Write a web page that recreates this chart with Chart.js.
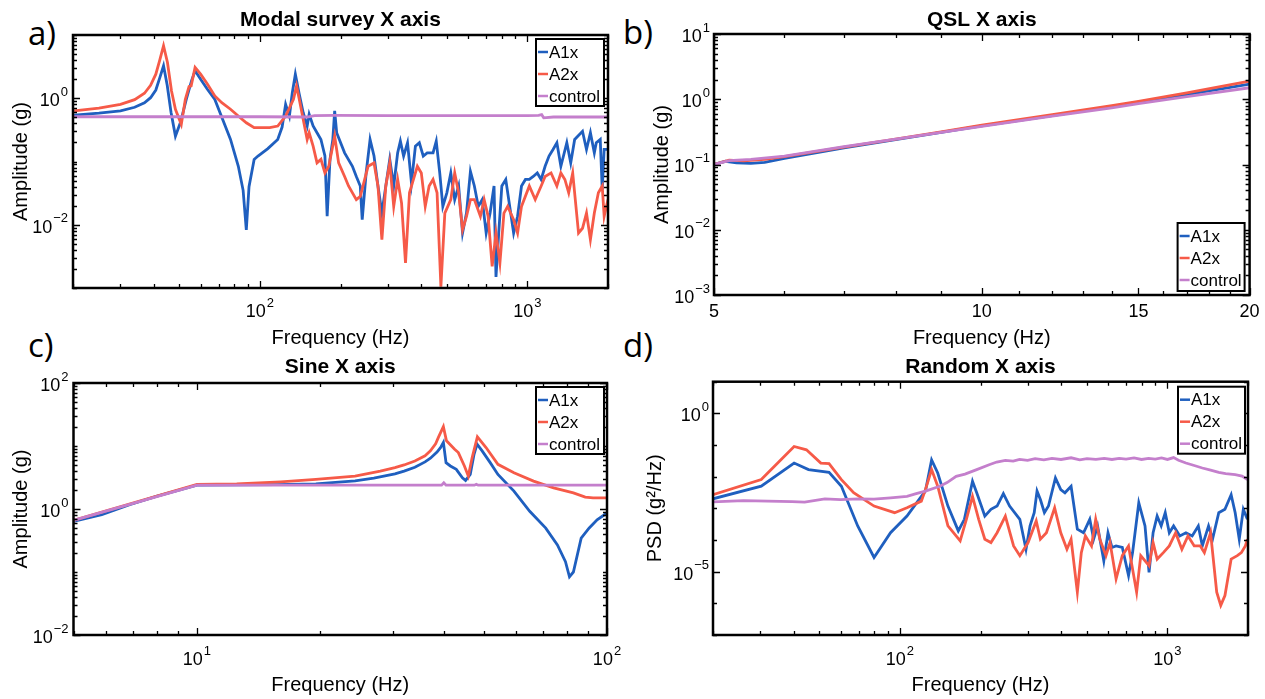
<!DOCTYPE html>
<html><head><meta charset="utf-8">
<script src="https://cdn.jsdelivr.net/npm/chart.js@4/dist/chart.umd.min.js"></script>
<style>
html,body{margin:0;padding:0;background:#fff;}
body{width:1265px;height:699px;position:relative;overflow:hidden;}
canvas{position:absolute;}
.lbl{position:absolute;font-family:"Open Sans",sans-serif;font-size:33px;line-height:33px;color:#000;}
</style></head><body>
<div class="lbl" style="left:28px;top:16px">a)</div>
<div class="lbl" style="left:623px;top:15px">b)</div>
<div class="lbl" style="left:28px;top:328px">c)</div>
<div class="lbl" style="left:623px;top:328px">d)</div>
<canvas id="ca" width="640" height="350" style="left:0;top:0"></canvas>
<canvas id="cb" width="633" height="350" style="left:632px;top:0"></canvas>
<canvas id="cc" width="640" height="354" style="left:0;top:345px"></canvas>
<canvas id="cd" width="633" height="354" style="left:632px;top:345px"></canvas>
<script>
// ---------- DATA ----------
const seriesLabels = ['A1x', 'A2x', 'control'];
const panelTitles = ['Modal survey X axis', 'QSL X axis', 'Sine X axis', 'Random X axis'];

// Panel a: Modal survey  [frequency Hz, amplitude g]
const modalA1x = [[20.2,0.54],[25,0.58],[30.1,0.63],[34,0.72],[37,0.85],[39,1.02],[40.8,1.35],[42.2,2.1],[43.6,3.26],[45,1.6],[46.5,0.6],[48.3,0.252],[50.5,0.42],[53,0.95],[55.5,1.9],[57.2,2.72],[60,2.0],[63.5,1.4],[67.8,0.96],[72,0.5],[77.6,0.223],[83.0,0.084],[86.5,0.035],[88.9,0.0083],[91,0.04],[95.1,0.108],[98.3,0.122],[107,0.16],[116.5,0.223],[121,0.35],[124.7,0.80],[128.8,0.52],[132,1.2],[135.6,2.40],[140,1.2],[145.1,0.59],[150.1,0.364],[152.7,0.56],[158.0,0.364],[163.4,0.285],[169.0,0.223],[174.9,0.122],[178.3,0.0136],[182.7,0.108],[187.2,0.223],[190.2,0.63],[193.5,0.285],[207.2,0.137],[221.6,0.084],[229.2,0.058],[237.1,0.041],[241.1,0.012],[249.4,0.066],[258.0,0.223],[266.9,0.122],[276.1,0.041],[285.6,0.0153],[295.4,0.041],[305.6,0.108],[316.2,0.041],[327.1,0.137],[334.9,0.21],[344.3,0.122],[356.1,0.198],[368.4,0.046],[381.1,0.175],[394.2,0.198],[407.8,0.122],[421.8,0.137],[443.6,0.137],[456.0,0.21],[469.9,0.066],[482.6,0.0195],[499.6,0.032],[516.8,0.066],[534.5,0.025],[552.9,0.041],[571.9,0.0074],[591.6,0.0153],[612.0,0.07],[633.1,0.041],[654.9,0.0195],[677.4,0.025],[700.8,0.0074],[724.9,0.0153],[749.9,0.041],[762.6,0.0015],[780.8,0.0074],[802.0,0.041],[829.6,0.052],[858.2,0.0195],[887.7,0.0074],[918.3,0.0136],[949.9,0.041],[982.6,0.052],[1016,0.052],[1051,0.058],[1088,0.066],[1125,0.052],[1164,0.084],[1204,0.122],[1246,0.155],[1288,0.198],[1333,0.084],[1403,0.198],[1451,0.095],[1501,0.223],[1606,0.30],[1662,0.155],[1719,0.285],[1778,0.137],[1808,0.198],[1871,0.223],[1903,0.036],[1935,0.155],[2000,0.155]];
const modalA2x = [[20.2,0.63],[25,0.7],[30.1,0.80],[34,0.95],[37,1.2],[39,1.6],[40.8,2.4],[42.2,4.0],[43.6,6.77],[45.1,3.68],[46.7,1.3],[48.3,0.67],[50.8,0.386],[52.6,0.96],[54.3,1.53],[55.3,1.57],[57.2,3.07],[60,2.4],[63.5,1.7],[67.8,1.09],[72,0.85],[77.6,0.67],[84,0.5],[88.9,0.41],[95.1,0.342],[108.8,0.342],[116.5,0.364],[124.7,0.52],[133.4,0.96],[137.0,1.57],[140.3,0.96],[145.1,0.46],[150.1,0.223],[152.7,0.285],[158.0,0.175],[163.4,0.095],[169.0,0.108],[174.9,0.066],[180.8,0.084],[190.2,0.252],[196.8,0.095],[207.2,0.058],[214.3,0.041],[229.2,0.025],[237.1,0.028],[253.6,0.084],[266.9,0.095],[276.1,0.041],[285.6,0.0058],[295.4,0.041],[305.6,0.095],[316.2,0.0195],[327.1,0.052],[338.3,0.022],[350.0,0.0025],[362.2,0.032],[374.8,0.052],[387.6,0.084],[401.0,0.066],[414.8,0.0195],[428.9,0.041],[443.6,0.052],[459.2,0.032],[474.6,0.00105],[491.0,0.0153],[516.8,0.025],[534.5,0.066],[552.9,0.032],[571.9,0.0083],[591.6,0.0136],[612.0,0.025],[633.1,0.025],[666.8,0.0136],[688.7,0.025],[712.8,0.0136],[737.9,0.0022],[762.6,0.0074],[788.9,0.0025],[816.6,0.0153],[843.3,0.0195],[887.7,0.012],[918.3,0.0074],[949.9,0.0195],[1016,0.041],[1069,0.025],[1125,0.041],[1164,0.058],[1225,0.066],[1288,0.041],[1333,0.066],[1380,0.052],[1426,0.032],[1476,0.066],[1552,0.0074],[1606,0.0088],[1662,0.0153],[1719,0.0058],[1778,0.0153],[1841,0.032],[1903,0.041],[1935,0.0136],[2000,0.025]];
const modalControl = [[20,0.51],[60,0.51],[100,0.51],[150,0.505],[160,0.53],[190,0.535],[300,0.53],[500,0.53],[800,0.53],[1000,0.53],[1100,0.535],[1130,0.55],[1150,0.49],[1250,0.505],[2000,0.505]];

// Panel b: QSL
const qslA1x = [[5,0.1],[5.15,0.112],[5.3,0.106],[5.5,0.104],[5.7,0.108],[6,0.124],[7,0.18],[8,0.24],[9,0.31],[10,0.39],[12,0.56],[14,0.77],[15,0.9],[17,1.18],[20,1.7]];
const qslA2x = [[5,0.1],[5.2,0.117],[5.4,0.114],[5.7,0.12],[6,0.132],[7,0.185],[8,0.245],[9,0.315],[10,0.4],[12,0.58],[14,0.8],[15,0.93],[17,1.25],[20,1.9]];
const qslControl = [[5,0.1],[5.2,0.115],[5.5,0.12],[6,0.134],[7,0.188],[8,0.245],[9,0.31],[10,0.385],[12,0.55],[14,0.74],[15,0.86],[17,1.1],[20,1.5]];

// Panel c: Sine
const sineA1x = [[5,0.635],[5.86,0.81],[6.85,1.17],[8,1.6],[10,2.39],[15.6,2.43],[19.5,2.5],[24.3,2.8],[27,3.1],[30.4,3.6],[32,4.0],[34.0,4.6],[36,5.6],[37.1,6.4],[38.5,8.0],[39.3,9.5],[39.9,11.4],[40.5,5.44],[41.5,4.82],[42.9,4.26],[44.4,3.13],[45.2,2.84],[46.4,3.54],[47.4,7.4],[48.2,10.7],[49.6,8.37],[51.9,5.44],[54.2,3.54],[59.3,1.92],[64.8,0.92],[70.9,0.497],[75.7,0.269],[79.2,0.146],[81.0,0.084],[82.8,0.1],[86.5,0.344],[90.5,0.5],[94.6,0.675],[100,0.863]];
const sineA2x = [[5,0.66],[10,2.45],[12.5,2.5],[16,2.7],[19.5,2.95],[24.3,3.33],[28,4.0],[30.4,4.53],[32,5.0],[34.0,5.79],[36,7.0],[37.1,8.37],[38.2,10.8],[38.8,13.7],[39.9,20.3],[40.6,12.1],[42.5,8.9],[43.4,7.87],[44.9,4.82],[45.9,3.33],[46.9,6.55],[48.3,14.0],[50.7,9.46],[54.2,5.12],[59.3,3.77],[66.2,2.77],[74.1,2.17],[82.8,1.8],[88.5,1.54],[92.5,1.5],[100,1.5]];
const sineControl = [[5,0.66],[10,2.39],[20,2.39],[39.5,2.39],[40,2.6],[40.5,2.39],[47.5,2.39],[48,2.47],[48.5,2.39],[100,2.39]];

// Panel d: Random  [frequency Hz, PSD g^2/Hz]
const randomA1x = [[20.0,2.0e-3],[30.3,5.0e-3],[40.2,0.027],[45.5,0.0167],[54.3,0.0137],[60.4,5.0e-3],[69.5,2.78e-4],[80.0,2.8e-5],[92.2,1.7e-4],[106.2,5.7e-4],[120.2,2.4e-3],[124.5,3.5e-3],[131.3,0.034],[138.4,0.0131],[151.1,1.18e-3],[165.2,1.94e-4],[174.1,4.5e-4],[186.7,7.2e-3],[193.6,3.1e-3],[207.6,5.7e-4],[218.8,9.3e-4],[230.7,1.18e-3],[243.5,2.9e-3],[256.9,1.18e-3],[280.6,4.5e-4],[295.9,5.1e-5],[306.4,2.78e-4],[317.6,7.3e-4],[325.4,3.5e-3],[334.9,1.9e-3],[346.7,7.3e-4],[359.0,1.18e-3],[381.2,9.1e-3],[399.1,3.9e-3],[413.6,3.1e-3],[436.2,5.0e-3],[460.3,2.2e-4],[485.6,1.7e-4],[512.3,4.5e-4],[529.7,1.06e-4],[548.0,2.78e-4],[578.1,2.2e-5],[599.3,1.7e-4],[620.5,5.8e-5],[642.5,6.5e-5],[677.9,5.8e-5],[715.2,7.5e-6],[740.5,4.0e-5],[781.2,1.5e-3],[824.2,2.78e-4],[853.4,9.5e-6],[883.6,1.7e-4],[915.0,5.7e-4],[947.4,2.78e-4],[981.0,7.3e-4],[1016,1.7e-4],[1054,2.78e-4],[1112,1.35e-4],[1172,1.7e-4],[1237,1.35e-4],[1304,2.78e-4],[1350,6.5e-5],[1424,2.78e-4],[1474,1.06e-4],[1555,7.3e-4],[1640,9.3e-4],[1730,2.7e-3],[1791,7.3e-4],[1855,1.06e-4],[1921,9.3e-4],[1990,4.5e-4]];
const randomA2x = [[20.0,2.7e-3],[30.3,8.1e-3],[40.2,0.09],[44.7,0.0707],[50.6,0.027],[54.3,0.0257],[60.4,8.1e-3],[67.1,3.1e-3],[80.0,1.18e-3],[95.5,7.3e-4],[106.2,1.04e-3],[120.2,1.69e-3],[124.5,3.9e-3],[131.3,0.0167],[138.4,5.0e-3],[151.1,2.78e-4],[167.9,9.4e-5],[177.1,4.5e-4],[186.7,2.4e-3],[196.9,4.5e-4],[207.6,1.06e-4],[218.8,8.3e-5],[230.7,1.7e-4],[247.7,5.7e-4],[265.9,6.5e-5],[280.6,3.2e-5],[301.2,8.3e-5],[323.1,4.0e-4],[334.9,1.06e-4],[352.8,1.7e-4],[378.6,1.04e-3],[399.1,1.7e-4],[420.9,5.1e-5],[436.2,1.06e-4],[460.3,2.25e-6],[476.3,4.0e-5],[493.3,1.35e-4],[520.0,6.5e-5],[539.1,4.5e-4],[558.6,1.06e-4],[588.9,3.2e-5],[609.9,8.3e-5],[642.5,5.9e-6],[677.9,3.2e-5],[715.2,6.5e-5],[766.8,2.25e-6],[794.6,3.2e-5],[853.4,1.54e-5],[883.6,8.3e-5],[915.0,2.5e-5],[965.1,4.0e-5],[1016,6.5e-5],[1073,1.7e-4],[1132,5.1e-5],[1193,1.35e-4],[1259,6.5e-5],[1327,6.5e-5],[1374,4.0e-5],[1449,1.7e-4],[1528,2.25e-6],[1582,8.6e-7],[1640,1.77e-6],[1730,2.5e-5],[1824,3.2e-5],[1889,4.0e-5],[1955,6.5e-5],[1990,1.06e-4]];
const randomControl = [[20,1.61e-3],[26,1.75e-3],[32,1.7e-3],[39.5,1.62e-3],[44,1.58e-3],[52.4,2.0e-3],[60,1.9e-3],[70,2.0e-3],[80,1.95e-3],[92.2,2.15e-3],[106.2,2.4e-3],[115,2.9e-3],[124.5,3.5e-3],[140.9,5.0e-3],[150,6.5e-3],[162.2,0.0103],[175,0.012],[193.6,0.0167],[215.4,0.0239],[230,0.029],[247.7,0.0327],[265,0.031],[280,0.035],[300,0.033],[320,0.037],[345,0.034],[370,0.038],[400,0.035],[436.2,0.0395],[470,0.034],[500,0.037],[540,0.035],[580,0.038],[620,0.035],[660,0.038],[700,0.036],[750,0.039],[800,0.035],[850,0.038],[900,0.036],[950,0.039],[1000,0.035],[1054,0.04],[1100,0.033],[1172,0.027],[1250,0.023],[1350,0.0188],[1450,0.016],[1555,0.0137],[1650,0.0125],[1791,0.0116],[1900,0.0105],[1990,8.1e-3]];

// Tick values (labels)
const aXTicks = [100, 1000],  aYTicks = [0.01, 1];
const bXTicks = [5, 10, 15, 20], bYTicks = [0.001, 0.01, 0.1, 1, 10];
const cXTicks = [10, 100],    cYTicks = [0.01, 1, 100];
const dXTicks = [100, 1000],  dYTicks = [1e-5, 1];

// ---------- RENDERING ----------
const FONT = "'Liberation Sans', Arial, 'DejaVu Sans', sans-serif";
const COLORS = ['#1f5fbf', '#f65a48', '#c47fcc'];
const SUP = {'0':'⁰','1':'¹','2':'²','3':'³','4':'⁴','5':'⁵','6':'⁶','7':'⁷','8':'⁸','9':'⁹','-':'⁻'};
function powLabel(v) { const e = Math.round(Math.log10(v)); return '10' + String(e).split('').map(c => SUP[c]).join(''); }
function plainLabel(v) { return String(v); }

function logMinor(min, max, sub) {
  const out = [];
  for (let d = Math.floor(Math.log10(min)); d <= Math.ceil(Math.log10(max)); d++) {
    const ks = sub ? [1,2,3,4,5,6,7,8,9] : [1];
    ks.forEach(k => { const v = k * Math.pow(10, d); if (v >= min * 0.999 && v <= max * 1.001) out.push(v); });
  }
  return out;
}
function intMinor(min, max) { const o = []; for (let v = min; v <= max; v++) o.push(v); return o; }

// draws a tick label: "10" + raised exponent (or plain text); align: 'center' | 'right'
function drawTickLabel(ctx, v, isPow, x, yMid, align) {
  const base = isPow ? '10' : String(v);
  const exp = isPow ? String(Math.round(Math.log10(v))).replace('-', '\u2212') : '';
  ctx.font = '18px ' + FONT;
  const wb = ctx.measureText(base).width;
  ctx.font = '13px ' + FONT;
  const we = exp ? ctx.measureText(exp).width + 1 : 0;
  const total = wb + we;
  const x0 = align === 'right' ? x - total : x - total / 2;
  ctx.textAlign = 'left';
  ctx.textBaseline = 'middle';
  ctx.fillStyle = '#000';
  ctx.font = '18px ' + FONT;
  ctx.fillText(base, x0, yMid + (isPow ? 3 : 0));
  if (exp) { ctx.font = '13px ' + FONT; ctx.fillText(exp, x0 + wb + 1, yMid - 6); }
}

const boxPlugin = {
  id: 'mbox',
  afterDatasetsDraw(chart, args, opts) {
    const {ctx, chartArea: ca, scales: {x, y}} = chart;
    ctx.save();
    ctx.strokeStyle = '#000';
    ctx.lineWidth = 1.3;
    const xMaj = opts.xMajor, yMaj = opts.yMajor;
    opts.xMinor.forEach(v => {
      const len = xMaj.includes(v) ? 7 : 4;
      const px = Math.round(x.getPixelForValue(v)) + 0.5;
      ctx.beginPath();
      ctx.moveTo(px, ca.bottom); ctx.lineTo(px, ca.bottom - len);
      ctx.moveTo(px, ca.top); ctx.lineTo(px, ca.top + len);
      ctx.stroke();
    });
    opts.yMinor.forEach(v => {
      const len = yMaj.includes(v) ? 7 : 4;
      const py = Math.round(y.getPixelForValue(v)) + 0.5;
      ctx.beginPath();
      ctx.moveTo(ca.left, py); ctx.lineTo(ca.left + len, py);
      ctx.moveTo(ca.right, py); ctx.lineTo(ca.right - len, py);
      ctx.stroke();
    });
    ctx.lineWidth = 2.5;
    ctx.strokeRect(ca.left, ca.top, ca.right - ca.left, ca.bottom - ca.top);
    // tick labels (values taken from the scales' own tick lists)
    x.ticks.forEach(t => drawTickLabel(ctx, t.value, opts.xPow, x.getPixelForValue(t.value), ca.bottom + opts.xLabOff, 'center'));
    y.ticks.forEach(t => drawTickLabel(ctx, t.value, true, ca.left - opts.yLabPad, y.getPixelForValue(t.value), 'right'));
    // legend box
    const L = opts.legend;
    const bx = ca.right - L.dx - L.w;
    const by = L.pos === 'tr' ? ca.top + L.dy : ca.bottom - L.dy - L.h;
    ctx.fillStyle = '#fff';
    ctx.fillRect(bx, by, L.w, L.h);
    ctx.strokeStyle = '#000';
    ctx.lineWidth = 2;
    ctx.strokeRect(bx, by, L.w, L.h);
    ctx.font = '17px ' + FONT;
    ctx.textBaseline = 'middle';
    ctx.textAlign = 'left';
    chart.data.datasets.forEach((ds, i) => {
      const ry = by + 13 + i * 22;
      ctx.strokeStyle = ds.borderColor;
      ctx.lineWidth = 2.5;
      ctx.beginPath(); ctx.moveTo(bx + 2, ry); ctx.lineTo(bx + 12, ry); ctx.stroke();
      ctx.fillStyle = '#000';
      ctx.fillText(ds.label, bx + 13, ry + 1);
    });
    ctx.restore();
  }
};

function makeChart(id, c) {
  const series = [c.s1, c.s2, c.s3];
  new Chart(document.getElementById(id), {
    type: 'line',
    data: {
      datasets: series.map((s, i) => ({
        label: seriesLabels[i],
        data: s.map(p => ({x: p[0], y: p[1]})),
        borderColor: COLORS[i], backgroundColor: COLORS[i],
        borderWidth: 2.8, pointRadius: 0, tension: 0, fill: false,
        order: 3 - i
      }))
    },
    options: {
      responsive: false, animation: false, devicePixelRatio: 1, events: [],
      layout: {padding: c.pad},
      plugins: {
        legend: {display: false}, tooltip: {enabled: false},
        title: {display: true, text: c.title, fullSize: false, color: '#000',
          font: {family: FONT, size: 21, weight: 'bold', lineHeight: 1.2}, padding: c.titlePad},
        mbox: {xMajor: c.xTicks, yMajor: c.yTicks, xMinor: c.xMinor, yMinor: c.yMinor, legend: c.legend,
          xPow: c.xPow, xLabOff: c.xLabOff, yLabPad: c.yTickPad}
      },
      scales: {
        x: {
          type: 'logarithmic', min: c.xMin, max: c.xMax,
          afterBuildTicks: s => { s.ticks = c.xTicks.map(v => ({value: v})); },
          afterFit: s => { s.height = c.xH; },
          grid: {display: false}, border: {display: false},
          ticks: {display: false, autoSkip: false, maxRotation: 0, minRotation: 0, color: '#000',
            font: {family: FONT, size: 18}, callback: v => (c.xPow ? powLabel(v) : plainLabel(v))},
          title: {display: true, text: 'Frequency (Hz)', color: '#000', font: {family: FONT, size: 20, lineHeight: 1.2},
            padding: {top: 0, bottom: c.xTitlePad}}
        },
        y: {
          type: 'logarithmic', min: c.yMin, max: c.yMax,
          afterBuildTicks: s => { s.ticks = c.yTicks.map(v => ({value: v})); },
          afterFit: s => { s.width = c.yW; },
          grid: {display: false}, border: {display: false},
          ticks: {display: false, autoSkip: false, color: '#000',
            font: {family: FONT, size: 18}, callback: v => powLabel(v)},
          title: {display: true, text: c.yTitle, color: '#000', font: {family: FONT, size: 20, lineHeight: 1.2},
            padding: {top: c.yTitlePad, bottom: 0}}
        }
      }
    },
    plugins: [boxPlugin]
  });
}

makeChart('ca', {
  s1: modalA1x, s2: modalA2x, s3: modalControl, title: panelTitles[0],
  pad: {left: 0, top: 4, right: 32, bottom: 0}, titlePad: {top: 4, bottom: 1.8},
  xMin: 20, xMax: 2000, yMin: 1e-3, yMax: 10, xTicks: aXTicks, yTicks: aYTicks, xPow: true,
  xMinor: logMinor(20, 2000, true), yMinor: logMinor(1e-3, 10, true),
  xH: 62, yW: 73, xLabOff: 21, yTickPad: 5, xTitlePad: 0, yTitlePad: 9, yTitle: 'Amplitude (g)',
  legend: {pos: 'tr', dx: 4, dy: 4, w: 68, h: 67}
});
makeChart('cb', {
  s1: qslA1x, s2: qslA2x, s3: qslControl, title: panelTitles[1],
  pad: {left: 0, top: 4, right: 15.4, bottom: 0}, titlePad: {top: 4, bottom: 0.8},
  xMin: 5, xMax: 20, yMin: 1e-3, yMax: 10, xTicks: bXTicks, yTicks: bYTicks, xPow: false,
  xMinor: intMinor(5, 20), yMinor: logMinor(1e-3, 10, true),
  xH: 55, yW: 82, xLabOff: 17, yTickPad: 4, xTitlePad: 0, yTitlePad: 18, yTitle: 'Amplitude (g)',
  legend: {pos: 'br', dx: 5, dy: 4, w: 67, h: 68}
});
makeChart('cc', {
  s1: sineA1x, s2: sineA2x, s3: sineControl, title: panelTitles[2],
  pad: {left: 0, top: 6, right: 33, bottom: 0}, titlePad: {top: 4, bottom: 2.8},
  xMin: 5, xMax: 100, yMin: 1e-2, yMax: 100, xTicks: cXTicks, yTicks: cYTicks, xPow: true,
  xMinor: logMinor(5, 100, true), yMinor: logMinor(1e-2, 100, true),
  xH: 64, yW: 73.5, xLabOff: 22, yTickPad: 5, xTitlePad: 2, yTitlePad: 9, yTitle: 'Amplitude (g)',
  legend: {pos: 'tr', dx: 3, dy: 4, w: 68, h: 67}
});
makeChart('cd', {
  s1: randomA1x, s2: randomA2x, s3: randomControl, title: panelTitles[3],
  pad: {left: 0, top: 6, right: 17, bottom: 0}, titlePad: {top: 4, bottom: 1.5},
  xMin: 20, xMax: 2000, yMin: 1e-7, yMax: 10, xTicks: dXTicks, yTicks: dYTicks, xPow: true,
  xMinor: logMinor(20, 2000, true), yMinor: logMinor(1e-7, 10, false),
  xH: 64, yW: 81, xLabOff: 22, yTickPad: 4, xTitlePad: 2, yTitlePad: 11, yTitle: 'PSD (g²/Hz)',
  legend: {pos: 'tr', dx: 3, dy: 5, w: 67, h: 67}
});
</script>
</body></html>
